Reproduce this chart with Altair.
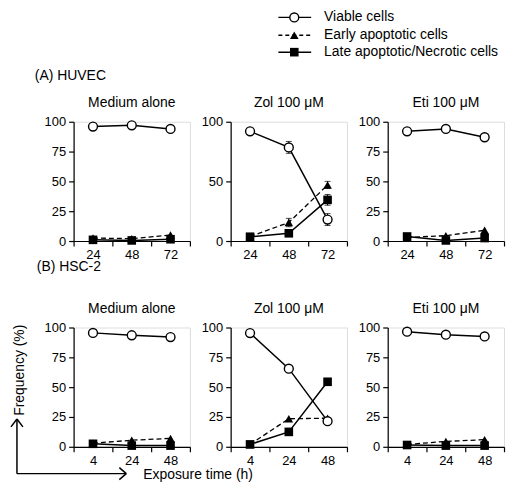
import altair as alt
import pandas as pd

FONT = "Liberation Sans"

SERIES = ["Viable cells", "Early apoptotic cells", "Late apoptotic/Necrotic cells"]
TIMES_A = ["24", "48", "72"]
TIMES_B = ["4", "24", "48"]
TREATMENTS = ["Medium alone", "Zol 100 μM", "Eti 100 μM"]
SECTION_LABELS = ["(A) HUVEC", "(B) HSC-2"]
Y_TITLE = "Frequency (%)"
X_TITLE = "Exposure time (h)"
Y_TICKS = [0, 25, 50, 75, 100]

# (A) HUVEC
A_med_viable = [96, 97, 94]
A_med_early = [2.5, 2, 5]
A_med_late = [1, 0.5, 1.5]
A_zol_viable = [92, 78.5, 18]
A_zol_early = [3.8, 15.5, 47]
A_zol_late = [3.6, 6.5, 34.5]
A_eti_viable = [92, 94, 87]
A_eti_early = [3, 4.5, 9]
A_eti_late = [3.8, 0.5, 2.5]
A_zol_viable_err = [1, 5, 5]
A_zol_early_err = [0.5, 3.5, 3]
A_zol_late_err = [0.5, 2, 4.5]

# (B) HSC-2
B_med_viable = [95.5, 93.5, 92]
B_med_early = [3, 5.5, 7]
B_med_late = [2.5, 1, 1]
B_zol_viable = [95.3, 65.5, 21.5]
B_zol_early = [2, 23.5, 24]
B_zol_late = [2, 12.5, 54.5]
B_eti_viable = [96.5, 94, 92.5]
B_eti_early = [2, 4.5, 6]
B_eti_late = [1.5, 1, 1]

PW, PH = 117, 120
COL_GAP = 41


def one(df_row):
    return pd.DataFrame([df_row])


def txt(text, x, y, align="left", angle=0, size=14):
    return alt.Chart(one({"t": text})).mark_text(
        align=align, baseline="middle", fontSize=size, font=FONT, color="black", angle=angle
    ).encode(text="t:N", x=alt.value(x), y=alt.value(y))


def seg(x, y, x2, y2, dash=None, w=1.5):
    kw = dict(color="black", strokeWidth=w)
    if dash:
        kw["strokeDash"] = dash
    return alt.Chart(one({"a": 0})).mark_rule(**kw).encode(
        x=alt.value(x), y=alt.value(y), x2=alt.value(x2), y2=alt.value(y2)
    )


def panel(times, viable, early, late, title, errs=None, extras=()):
    rows = []
    for s, vals in zip(SERIES, [viable, early, late]):
        ev = (errs or {}).get(s, [0, 0, 0])
        for t, v, e in zip(times, vals, ev):
            rows.append(dict(series=s, time=t, value=v, lo=v - e, hi=v + e, err=e))
    df = pd.DataFrame(rows)
    x = alt.X("time:N", sort=times,
              scale=alt.Scale(type="band", paddingInner=0, paddingOuter=0),
              axis=alt.Axis(title=None, labelAngle=0, tickBand="extent", tickSize=5,
                            labelFontSize=13, labelFont=FONT, labelColor="black",
                            domainColor="black", tickColor="black", labelPadding=3,
                            domainWidth=1.2, tickWidth=1.2))
    y = alt.Y("value:Q", scale=alt.Scale(domain=[0, 100], nice=False),
              axis=alt.Axis(title=None, values=Y_TICKS, tickSize=5, grid=False,
                            labelFontSize=13, labelFont=FONT, labelColor="black",
                            domainColor="black", tickColor="black", labelPadding=3,
                            domainWidth=1.2, tickWidth=1.2))
    base = alt.Chart(df)
    f = lambda s: base.transform_filter(alt.datum.series == s)
    layers = [
        f(SERIES[1]).mark_line(color="black", strokeWidth=1.3, strokeDash=[5, 3]).encode(x=x, y=y),
        f(SERIES[2]).mark_line(color="black", strokeWidth=1.5).encode(x=x, y=y),
        f(SERIES[0]).mark_line(color="black", strokeWidth=1.5).encode(x=x, y=y),
    ]
    if errs:
        eb = base.transform_filter("datum.err > 0")
        layers += [
            eb.mark_rule(color="black", strokeWidth=1).encode(x=x, y="lo:Q", y2="hi:Q"),
            eb.mark_tick(color="black", size=6, thickness=1).encode(x=x, y="lo:Q"),
            eb.mark_tick(color="black", size=6, thickness=1).encode(x=x, y="hi:Q"),
        ]
    layers += [
        f(SERIES[1]).mark_point(shape="triangle-up", filled=True, color="black", size=75, opacity=1).encode(x=x, y=y),
        f(SERIES[2]).mark_point(shape="square", filled=True, color="black", size=75, opacity=1).encode(x=x, y=y),
        f(SERIES[0]).mark_point(shape="circle", filled=True, fill="white", stroke="black",
                                strokeWidth=1.4, size=80, opacity=1).encode(x=x, y=y),
    ]
    layers.append(txt(title, PW / 2, -19, align="center"))
    layers += list(extras)
    return alt.layer(*layers).properties(width=PW, height=PH)


# legend drawn in panel A3 (origin at its plot area)
legend_layers = []
ly = [-105, -87, -70]
for i, s in enumerate(SERIES):
    legend_layers.append(seg(-110, ly[i], -77, ly[i], dash=[4, 3] if i == 1 else None))
    shape = ["circle", "triangle-up", "square"][i]
    if i == 0:
        pt = alt.Chart(one({"a": 0})).mark_point(shape=shape, filled=True, fill="white", stroke="black",
                                                 strokeWidth=1.4, size=80, opacity=1)
    else:
        pt = alt.Chart(one({"a": 0})).mark_point(shape=shape, filled=True, color="black", size=75, opacity=1)
    legend_layers.append(pt.encode(x=alt.value(-94), y=alt.value(ly[i])))
    legend_layers.append(txt(s, -64, ly[i]))

BY = 147
a_extras = [txt(SECTION_LABELS[0], -39, -46)]
b_extras = [
    txt(SECTION_LABELS[1], -37, -61),
    txt(Y_TITLE, -54, 43, align="center", angle=270),
    seg(-57, 92, -57, BY),
    seg(-57, BY, 53, BY),
    seg(-57, 92, -63, 100),
    seg(-57, 92, -51, 100),
    seg(53, BY, 46, BY - 6),
    seg(53, BY, 46, BY + 6),
    txt(X_TITLE, 70, BY + 1),
]

errs_zol_a = {SERIES[0]: A_zol_viable_err, SERIES[1]: A_zol_early_err, SERIES[2]: A_zol_late_err}

panels = [
    panel(TIMES_A, A_med_viable, A_med_early, A_med_late, TREATMENTS[0], extras=a_extras),
    panel(TIMES_A, A_zol_viable, A_zol_early, A_zol_late, TREATMENTS[1], errs=errs_zol_a),
    panel(TIMES_A, A_eti_viable, A_eti_early, A_eti_late, TREATMENTS[2], extras=legend_layers),
    panel(TIMES_B, B_med_viable, B_med_early, B_med_late, TREATMENTS[0], extras=b_extras),
    panel(TIMES_B, B_zol_viable, B_zol_early, B_zol_late, TREATMENTS[1]),
    panel(TIMES_B, B_eti_viable, B_eti_early, B_eti_late, TREATMENTS[2]),
]

chart = alt.concat(*panels, columns=3, spacing={"row": 87, "column": COL_GAP}).properties(
    bounds="flush",
    padding={"left": 1, "top": 0, "right": 0, "bottom": 0},
).resolve_scale(x="independent").configure_view(stroke=None).configure(font=FONT)

chart.save("out.html", embed_options={"renderer": "svg", "actions": False})
